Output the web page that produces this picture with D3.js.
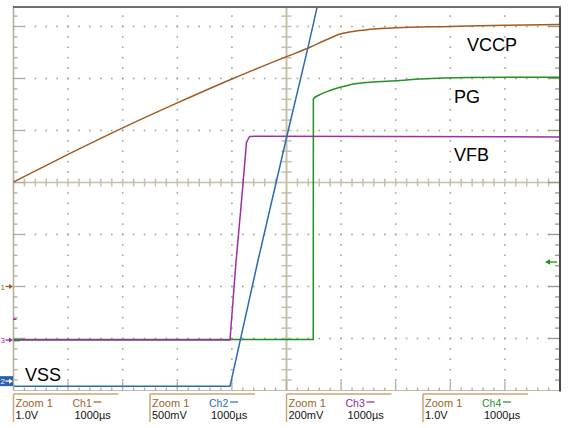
<!DOCTYPE html>
<html><head><meta charset="utf-8">
<script src="https://cdn.jsdelivr.net/npm/d3@7"></script>
<style>html,body{margin:0;padding:0;background:#fff;} svg{display:block;}</style>
</head><body><svg id="c" width="568" height="428"></svg>
<script>
// ---------------- data ----------------
const usPerDiv = 1000;
const channels = ["Ch1", "Ch2", "Ch3", "Ch4"];
const zoomLabels = ["Zoom 1", "Zoom 1", "Zoom 1", "Zoom 1"];
const scaleLabels = ["1.0V", "500mV", "200mV", "1.0V"];
const timeLabels = ["1000µs", "1000µs", "1000µs", "1000µs"];
const voltsPerDiv = [1.0, 0.5, 0.2, 1.0];
const groundDiv = [-2.0, -3.82, -3.03, -3.03];   // channel ground reference (divisions)
const traceNames = ["VCCP", "VSS", "VFB", "PG"];

// Ch1 : VCCP (V) vs time (µs)
const ch1T = [-5000, -4000, -3000, -2000, -1000, 0, 430, 700, 1000, 1250, 1500, 2000, 3000, 4000, 5000];
const ch1V = [2.01, 2.54, 3.05, 3.53, 3.99, 4.42, 4.60, 4.73, 4.86, 4.91, 4.94, 4.975, 5.00, 5.025, 5.04];
// Ch2 : VSS
const ch2T = [-5000, -1035, -522, 0, 394, 614];
const ch2V = [-0.05, -0.05, 1.16, 2.34, 3.21, 3.72];
// Ch3 : VFB
const ch3T = [-5000, -1035, -925, -815, -733, -678, -559, 5000];
const ch3V = [0.0, 0.0, 0.30, 0.556, 0.76, 0.783, 0.784, 0.781];
// Ch4 : PG
const ch4T = [-5000, 490, 492, 613, 797, 980, 1255, 1529, 2079, 2445, 3361, 5000];
const ch4V = [0.01, 0.01, 4.64, 4.72, 4.80, 4.86, 4.93, 4.96, 4.99, 5.02, 5.05, 5.055];
const triggerLevelCh4 = 1.5;

// ---------------- drawing ----------------
const colors = ["#a35a1e", "#2a6bb2", "#a02ca6", "#239023"];
const textColors = ["#9c6428", "#2e6eae", "#8e2c9c", "#2a8a3a"];

const svg = d3.select("#c");
const x = d3.scaleLinear().domain([-5 * usPerDiv, 5 * usPerDiv]).range([13.5, 559.5]);
const y = d3.scaleLinear().domain([-4, 4]).range([390.5, -25.5]); // divisions
const pL = 13.5, pR = 560, pT = 7, pB = 390.5;

// dotted grid
const grid = svg.append("g");
const majorX = d3.range(-4, 5).map(k => k * usPerDiv);
const minorX = d3.range(-25, 26).map(k => k * usPerDiv / 5);
const majorY = d3.range(-3, 4);
const minorY = d3.range(-20, 21).map(k => k / 5);
const dots = [];
majorY.forEach(dv => { if (dv !== 0) minorX.forEach(t => { if (t !== 0) dots.push([x(t), y(dv)]); }); });
majorX.forEach(t => { if (t !== 0) minorY.forEach(dv => { if (dv !== 0 && y(dv) > pT + 2 && y(dv) < pB - 2) dots.push([x(t), y(dv)]); }); });
grid.selectAll("rect").data(dots).join("rect")
  .attr("x", d => d[0] - 0.8).attr("y", d => d[1] - 0.8)
  .attr("width", 1.6).attr("height", 1.6).attr("fill", "#aaa28c");

// center axes
const axc = "#c6bfaa";
svg.append("line").attr("x1", pL).attr("x2", pR).attr("y1", y(0)).attr("y2", y(0)).attr("stroke", axc).attr("stroke-width", 1.5);
svg.append("line").attr("x1", x(0)).attr("x2", x(0)).attr("y1", pT).attr("y2", pB).attr("stroke", axc).attr("stroke-width", 2);
svg.append("g").selectAll("line").data(minorX.filter(t => t !== 0)).join("line")
  .attr("x1", d => x(d)).attr("x2", d => x(d)).attr("y1", y(0) - 4).attr("y2", y(0) + 4)
  .attr("stroke", axc).attr("stroke-width", 1.5);
svg.append("g").selectAll("line").data(minorY.filter(v => v !== 0 && y(v) > pT + 2 && y(v) < pB)).join("line")
  .attr("x1", x(0) - 5).attr("x2", x(0) + 5).attr("y1", d => y(d)).attr("y2", d => y(d))
  .attr("stroke", axc).attr("stroke-width", 1.5);

// frame edges with ticks
const edge = "#b2ac98";
const isMajor = v => Math.abs(v - Math.round(v)) < 1e-6;
svg.append("line").attr("x1", pL).attr("x2", pL).attr("y1", pT).attr("y2", pB).attr("stroke", edge).attr("stroke-width", 1.5);
svg.append("g").selectAll("line").data(minorY.filter(v => y(v) > pT + 2 && y(v) < pB)).join("line")
  .attr("x1", pL).attr("x2", d => pL + (isMajor(d) ? 11 : 4))
  .attr("y1", d => y(d)).attr("y2", d => y(d)).attr("stroke", edge).attr("stroke-width", 1.3);
svg.append("line").attr("x1", pL).attr("x2", pR).attr("y1", pB).attr("y2", pB).attr("stroke", "#c4bca6").attr("stroke-width", 1.2);
svg.append("g").selectAll("line").data(minorX.filter(t => x(t) > pL + 2 && x(t) < pR - 2)).join("line")
  .attr("x1", d => x(d)).attr("x2", d => x(d))
  .attr("y1", pB).attr("y2", d => pB - (isMajor(d / usPerDiv) ? 9 : 3))
  .attr("stroke", edge).attr("stroke-width", 1.3);
svg.append("line").attr("x1", pR).attr("x2", pR).attr("y1", pT).attr("y2", pB + 1).attr("stroke", "#4a4a4a").attr("stroke-width", 2);
svg.append("g").selectAll("line").data(minorY.filter(v => y(v) > pT + 2 && y(v) < pB)).join("line")
  .attr("x1", pR - 1).attr("x2", d => pR - 1 - (isMajor(d) ? 11 : 4))
  .attr("y1", d => y(d)).attr("y2", d => y(d)).attr("stroke", "#9a9688").attr("stroke-width", 1.3);
svg.append("line").attr("x1", pL - 0.5).attr("x2", pR + 1).attr("y1", pT).attr("y2", pT).attr("stroke", "#6e6e6e").attr("stroke-width", 2);

// traces
svg.append("defs").append("clipPath").attr("id", "plot").append("rect")
  .attr("x", pL).attr("y", pT + 1).attr("width", pR - pL - 1).attr("height", pB - pT - 1);
const traces = [[ch1T, ch1V, 0, d3.curveMonotoneX], [ch4T, ch4V, 3, d3.curveMonotoneX],
                [ch3T, ch3V, 2, d3.curveLinear], [ch2T, ch2V, 1, d3.curveLinear]];
const tg = svg.append("g").attr("clip-path", "url(#plot)");
traces.forEach(([T, V, ci, cv]) => {
  const pts = T.map((t, i) => [t, V[i]]);
  const line = d3.line().curve(cv).x(d => x(d[0])).y(d => y(groundDiv[ci] + d[1] / voltsPerDiv[ci]));
  tg.append("path").datum(pts).attr("d", line).attr("fill", "none")
    .attr("stroke", colors[ci]).attr("stroke-width", 1.5).attr("stroke-linejoin", "round");
});

// trace labels
const lab = svg.append("g").attr("font-family", "Liberation Sans, Arial, sans-serif").attr("font-size", 18).attr("fill", "#000");
lab.append("text").attr("x", x(3306)).attr("y", y(2.52)).text(traceNames[0]);
lab.append("text").attr("x", x(3068)).attr("y", y(1.52)).text(traceNames[3]);
lab.append("text").attr("x", x(3068)).attr("y", y(0.41)).text(traceNames[2]);
lab.append("text").attr("x", x(-4789)).attr("y", y(-3.81)).text(traceNames[1]);

// channel ground markers (left)
const mk = svg.append("g").attr("font-family", "Liberation Sans, Arial, sans-serif").attr("font-size", 8);
function arrowRight(g, yy, col) {
  g.append("line").attr("x1", 5.5).attr("x2", 11).attr("y1", yy).attr("y2", yy).attr("stroke", col).attr("stroke-width", 1.3);
  g.append("path").attr("d", `M13,${yy} L9,${yy - 2.5} L9,${yy + 2.5} Z`).attr("fill", col);
}
const y1m = y(groundDiv[0]);
mk.append("text").attr("x", 0.5).attr("y", y1m + 3).attr("fill", colors[0]).text("1");
arrowRight(mk, y1m, colors[0]);
const y3m = y(groundDiv[2]);
mk.append("text").attr("x", 0.5).attr("y", y3m + 3).attr("fill", colors[2]).text("3");
arrowRight(mk, y3m, colors[2]);
mk.append("line").attr("x1", 14).attr("x2", 20).attr("y1", y(groundDiv[3]) + 0.5).attr("y2", y(groundDiv[3]) + 0.5).attr("stroke", colors[3]).attr("stroke-width", 1.5);
mk.append("line").attr("x1", 13).attr("x2", 16.5).attr("y1", y(groundDiv[2] + 0.08 / voltsPerDiv[2])).attr("y2", y(groundDiv[2] + 0.08 / voltsPerDiv[2])).attr("stroke", colors[2]).attr("stroke-width", 1.5);
const y2m = y(groundDiv[1]);
mk.append("rect").attr("x", 0).attr("y", y2m - 5).attr("width", 13).attr("height", 10).attr("fill", "#2a62b0");
mk.append("text").attr("x", 0.5).attr("y", y2m + 3).attr("fill", "#fff").text("2");
arrowRight(mk, y2m, "#fff");

// trigger level marker (right, Ch4)
const yt = y(groundDiv[3] + triggerLevelCh4 / voltsPerDiv[3]);
svg.append("line").attr("x1", 549).attr("x2", 557).attr("y1", yt).attr("y2", yt).attr("stroke", colors[3]).attr("stroke-width", 1.3);
svg.append("path").attr("d", `M545,${yt} L550,${yt - 2.8} L550,${yt + 2.8} Z`).attr("fill", colors[3]);

// bottom info boxes
const info = svg.append("g").attr("font-family", "Liberation Sans, Arial, sans-serif").attr("font-size", 11);
channels.forEach((ch, i) => {
  const bx = pL + i * 2.5 * (x(usPerDiv) - x(0));
  info.append("line").attr("x1", bx).attr("x2", bx + 105).attr("y1", 394).attr("y2", 394).attr("stroke", "#c8a67c").attr("stroke-width", 1.5);
  info.append("line").attr("x1", bx).attr("x2", bx).attr("y1", 394).attr("y2", 422).attr("stroke", "#c8a67c").attr("stroke-width", 1.5);
  info.append("text").attr("x", bx + 2).attr("y", 406.5).attr("fill", textColors[0]).text(zoomLabels[i]);
  info.append("text").attr("x", bx + 59).attr("y", 406.5).attr("fill", textColors[i]).attr("font-size", 10.5).text(ch);
  info.append("line").attr("x1", bx + 80).attr("x2", bx + 88).attr("y1", 402).attr("y2", 402).attr("stroke", textColors[i]).attr("stroke-width", 1.2);
  info.append("text").attr("x", bx + 2).attr("y", 418.5).attr("fill", "#111").text(scaleLabels[i]);
  info.append("text").attr("x", bx + 61).attr("y", 418.5).attr("fill", "#111").text(timeLabels[i]);
});
</script></body></html>
